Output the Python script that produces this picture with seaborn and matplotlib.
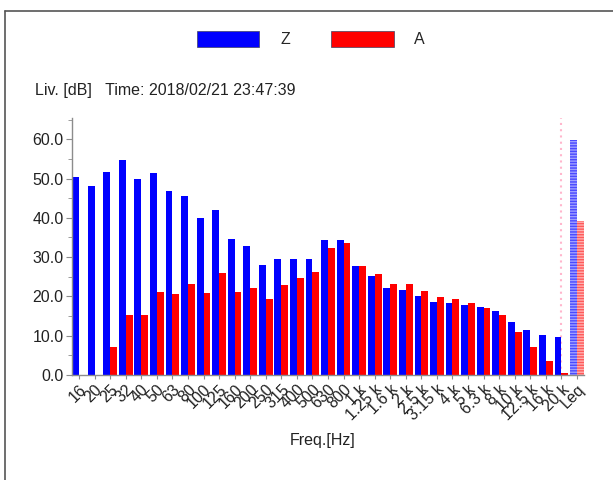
import numpy as np
import pandas as pd
import matplotlib
matplotlib.use('Agg')
import matplotlib.pyplot as plt
import seaborn as sns
from matplotlib.patches import Patch
from matplotlib.lines import Line2D
from matplotlib.ticker import MultipleLocator, FormatStrFormatter

# third-octave bands + overall Leq
freqs = ['16', '20', '25', '32', '40', '50', '63', '80', '100', '125', '160', '200',
         '250', '315', '400', '500', '630', '800', '1 k', '1.25 k', '1.6 k', '2 k',
         '2.5 k', '3.15 k', '4 k', '5 k', '6.3 k', '8 k', '10 k', '12.5 k', '16 k',
         '20 k', 'Leq']
level_z = [50.5, 48.0, 51.7, 54.8, 49.9, 51.3, 46.8, 45.5, 39.9, 41.9, 34.7, 32.9,
           28.1, 29.4, 29.5, 29.4, 34.4, 34.4, 27.8, 25.2, 22.1, 21.7, 20.1, 18.7,
           18.3, 17.8, 17.2, 16.3, 13.5, 11.4, 10.1, 9.7, 59.8]
level_a = [np.nan, np.nan, 7.0, 15.3, 15.3, 21.0, 20.6, 23.1, 20.8, 25.9, 21.2, 22.1,
           19.4, 22.8, 24.8, 26.1, 32.4, 33.5, 27.8, 25.8, 23.1, 23.1, 21.5, 19.9,
           19.4, 18.3, 17.1, 15.2, 11.0, 7.0, 3.5, 0.4, 39.3]
weights = ['Z', 'A']
colors = {'Z': '#0000ff', 'A': '#ff0000'}

df = pd.concat([
    pd.DataFrame({'freq': freqs, 'weight': 'Z', 'level': level_z}),
    pd.DataFrame({'freq': freqs, 'weight': 'A', 'level': level_a}),
]).dropna()

sns.set_style('white')
plt.rcParams['font.family'] = ['Liberation Sans', 'DejaVu Sans']
plt.rcParams['hatch.linewidth'] = 1.0
txt = '#222222'
grey = '#8c8c8c'

fig = plt.figure(figsize=(6.13, 4.80), dpi=100)
ax = fig.add_axes([72 / 613, 1 - 375 / 480, 512 / 613, 257 / 480])

sns.barplot(data=df, x='freq', y='level', hue='weight', order=freqs,
            hue_order=weights, palette=colors, width=0.88, gap=0,
            saturation=1, legend=False, ax=ax, linewidth=0)

# Leq bars drawn striped / lighter
for p in ax.patches:
    if p.get_x() > 31.5:
        c = p.get_facecolor()
        if c[2] > 0.5:
            p.set_facecolor('#a0a0ff')
            p.set_edgecolor('#4a4aff')
        else:
            p.set_facecolor('#ffb0b0')
            p.set_edgecolor('#ff5a5a')
        p.set_hatch('------')
        p.set_linewidth(0)

ax.axvline(31, color='#ffb6cc', ls=(0, (1, 2)), lw=1.5, zorder=0)

ax.set_xlim(-0.45, 32.45)
ax.set_ylim(0, 65.4)
ax.yaxis.set_major_locator(MultipleLocator(10))
ax.yaxis.set_minor_locator(MultipleLocator(5))
ax.yaxis.set_major_formatter(FormatStrFormatter('%.1f'))
ax.set_xlabel('')
ax.set_ylabel('')

for s in ['top', 'right']:
    ax.spines[s].set_visible(False)
for s in ['left', 'bottom']:
    ax.spines[s].set_color(grey)
    ax.spines[s].set_linewidth(1.0)

ax.tick_params(axis='both', which='both', direction='out', color=grey,
               labelcolor=txt, labelsize=11.5, left=True, bottom=True)
ax.tick_params(axis='y', which='major', length=4, pad=2)
ax.tick_params(axis='y', which='minor', length=3)
ax.tick_params(axis='x', length=3, pad=2)
plt.setp(ax.get_xticklabels(), rotation=45, ha='right', va='top',
         rotation_mode='anchor')

fig.text(323 / 613, 1 - 440 / 480, 'Freq.[Hz]', ha='center', va='center',
         fontsize=11.5, color=txt)
fig.text(35 / 613, 1 - 91 / 480, 'Liv. [dB]   Time: 2018/02/21 23:47:39',
         ha='left', va='center', fontsize=11.5, color=txt)

handles = [Patch(facecolor=colors[w], edgecolor='#404060', linewidth=0.5, label=w)
           for w in weights]
fig.legend(handles=handles, loc='center', bbox_to_anchor=(311 / 613, 1 - 39 / 480),
           ncol=2, frameon=False, fontsize=11.5, handlelength=3.9,
           handleheight=1.2, handletextpad=1.3, columnspacing=2.6)

# outer frame (left and top edges)
fig.add_artist(Line2D([5 / 613, 5 / 613], [0, 1 - 10.5 / 480],
                      transform=fig.transFigure, color='#555555', lw=1.2))
fig.add_artist(Line2D([5 / 613, 1], [1 - 10.5 / 480, 1 - 10.5 / 480],
                      transform=fig.transFigure, color='#555555', lw=1.2))

fig.savefig('out.png', dpi=100)
